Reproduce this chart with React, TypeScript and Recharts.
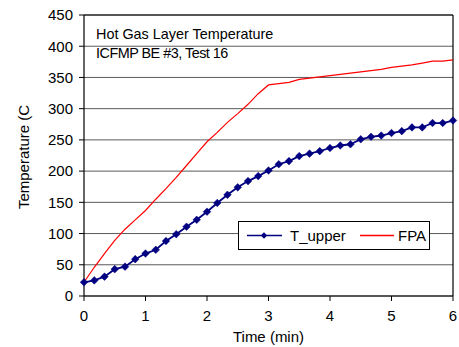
import React from "react";
import { LineChart, Line, XAxis, YAxis, CartesianGrid, ReferenceLine } from "recharts";

const times = [0, 0.167, 0.333, 0.5, 0.667, 0.833, 1, 1.167, 1.333, 1.5, 1.667, 1.833, 2, 2.167, 2.333, 2.5, 2.667, 2.833, 3, 3.167, 3.333, 3.5, 3.667, 3.833, 4, 4.167, 4.333, 4.5, 4.667, 4.833, 5, 5.167, 5.333, 5.5, 5.667, 5.833, 6];
const tUpper = [22, 25, 31, 43, 47, 59, 68, 74, 88, 99, 111, 122, 135, 149, 162, 174, 184, 192, 201, 211, 216, 224, 228, 232, 237, 241, 243, 251, 255, 257, 261, 264, 270, 270, 277, 277, 281];
const fpa = [22, 46, 68, 89, 107, 122, 137, 155, 172, 190, 209, 228, 247, 262, 278, 292, 307, 324, 338, 340, 342, 347, 349, 351, 353, 355, 357, 359, 361, 363, 366, 368, 370, 373, 376, 376, 378];
const xTicks = [0, 1, 2, 3, 4, 5, 6];
const yTicks = [0, 50, 100, 150, 200, 250, 300, 350, 400, 450];
const titleLines = ["Hot Gas Layer Temperature", "ICFMP BE #3, Test 16"];
const seriesNames = ["T_upper", "FPA"];

const data = times.map((t, i) => ({ t, tUpper: tUpper[i], fpa: fpa[i] }));

const FONT = "'Liberation Sans', Arial, sans-serif";
const NAVY = "#000080";
const RED = "#FF0000";

const Diamond = (props: any) => {
  const { cx, cy } = props;
  if (cx == null || cy == null) return null;
  const r = 3.8;
  return <path d={`M${cx},${cy - r}L${cx + r},${cy}L${cx},${cy + r}L${cx - r},${cy}Z`} fill={NAVY} stroke={NAVY} strokeWidth={0.5} />;
};

export default function App() {
  return (
    <div style={{ position: "absolute", left: 0, top: 0, width: 459, height: 347, fontFamily: FONT, background: "#fff" }}>
      <LineChart width={459} height={347} data={data} margin={{ top: 15, right: 6, bottom: 0, left: 0 }}>
        <CartesianGrid horizontal vertical={false} stroke="#5a5a5a" strokeWidth={1} />
        <XAxis
          dataKey="t"
          type="number"
          domain={[0, 6]}
          ticks={xTicks}
          height={51}
          tickSize={5}
          tickMargin={9}
          stroke="#000"
          tick={{ fill: "#000", fontSize: 15, fontFamily: FONT }}
          axisLine={{ stroke: "#000", strokeWidth: 1.2 }}
          tickLine={{ stroke: "#000" }}
          label={{
            content: () => (
              <text x={268.5} y={342} textAnchor="middle" fontSize={15} fontFamily={FONT} fill="#000">Time (min)</text>
            ),
          }}
        />
        <YAxis
          type="number"
          domain={[0, 450]}
          ticks={yTicks}
          width={84}
          tickSize={5}
          tickMargin={6}
          stroke="#000"
          tick={{ fill: "#000", fontSize: 15, fontFamily: FONT }}
          axisLine={{ stroke: "#000", strokeWidth: 1.2 }}
          tickLine={{ stroke: "#000" }}
          label={{
            content: () => (
              <text x={29} y={157} textAnchor="middle" transform="rotate(-90 29 157)" fontSize={15} fontFamily={FONT} fill="#000">Temperature (C</text>
            ),
          }}
        />
        <ReferenceLine y={450} stroke="#000" strokeWidth={1.2} />
        <ReferenceLine x={6} stroke="#000" strokeWidth={1.2} />
        <Line dataKey="fpa" name={seriesNames[1]} stroke={RED} strokeWidth={1.2} dot={false} isAnimationActive={false} />
        <Line dataKey="tUpper" name={seriesNames[0]} stroke={NAVY} strokeWidth={1.8} dot={<Diamond />} isAnimationActive={false} />
      </LineChart>
      <div style={{ position: "absolute", left: 96, top: 27, fontSize: 14.4, lineHeight: "14px", whiteSpace: "nowrap", color: "#000" }}>{titleLines[0]}</div>
      <div style={{ position: "absolute", left: 96, top: 46, fontSize: 14.4, lineHeight: "14px", whiteSpace: "nowrap", color: "#000", letterSpacing: -0.5 }}>{titleLines[1]}</div>
      <div style={{ position: "absolute", left: 238, top: 221, width: 192, height: 29, boxSizing: "border-box", border: "1px solid #000", background: "#fff" }}>
        <svg width={190} height={27} style={{ position: "absolute", left: 0, top: 0 }}>
          <line x1={8} x2={43} y1={13.5} y2={13.5} stroke={NAVY} strokeWidth={1.5} />
          <path d="M25,10.3L28.2,13.5L25,16.7L21.8,13.5Z" fill={NAVY} />
          <line x1={121} x2={155} y1={13.5} y2={13.5} stroke={RED} strokeWidth={1.6} />
          <text x={51} y={19} fontSize={15} fontFamily={FONT} fill="#000">{seriesNames[0]}</text>
          <text x={159} y={19} fontSize={15} fontFamily={FONT} fill="#000">{seriesNames[1]}</text>
        </svg>
      </div>
    </div>
  );
}
